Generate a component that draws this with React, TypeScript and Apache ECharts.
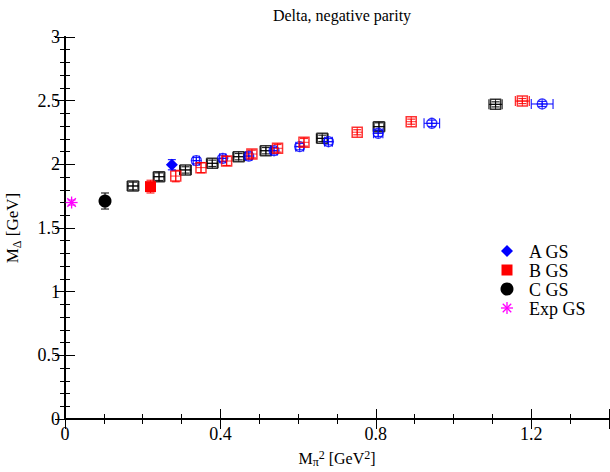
import React, { useEffect, useRef } from "react";
import * as echarts from "echarts";

// ---- data ----
const aOpenX = [0.338, 0.406, 0.473, 0.538, 0.604, 0.678, 0.806, 0.944, 1.228];
const aOpenY = [2.029, 2.047, 2.065, 2.107, 2.139, 2.178, 2.244, 2.322, 2.474];
const aOpenXErr = [0.008, 0.008, 0.008, 0.008, 0.01, 0.01, 0.012, 0.02, 0.028];
const aOpenYErr = [0.025, 0.025, 0.025, 0.025, 0.025, 0.025, 0.025, 0.025, 0.02];

const bOpenX = [0.285, 0.35, 0.416, 0.481, 0.547, 0.615, 0.752, 0.891, 1.177];
const bOpenY = [1.908, 1.974, 2.026, 2.081, 2.126, 2.173, 2.252, 2.335, 2.497];
const bOpenXErr = [0.0, 0.0, 0.0, 0.0, 0.0, 0.0, 0.0, 0.0, 0.018];
const bOpenYErr = [0.045, 0.04, 0.035, 0.03, 0.03, 0.03, 0.02, 0.02, 0.02];

const cOpenX = [0.175, 0.242, 0.31, 0.379, 0.447, 0.517, 0.662, 0.808, 1.108];
const cOpenY = [1.83, 1.903, 1.956, 2.008, 2.06, 2.107, 2.204, 2.296, 2.471];
const cOpenXErr = [0.015, 0.015, 0.015, 0.015, 0.015, 0.015, 0.015, 0.015, 0.017];
const cOpenYErr = [0.03, 0.03, 0.025, 0.025, 0.025, 0.025, 0.025, 0.03, 0.02];

const aGsX = [0.275];
const aGsY = [1.997];
const aGsYErr = [0.04];

const bGsX = [0.22];
const bGsY = [1.825];
const bGsYErr = [0.05];

const cGsX = [0.103];
const cGsY = [1.712];
const cGsYErr = [0.063];

const expX = [0.017];
const expY = [1.7];
const expYErr = [0.02];

const xTicks = ["0", "0.4", "0.8", "1.2"];
const yTicks = ["0", "0.5", "1", "1.5", "2", "2.5", "3"];

const legendNames = ["A GS", "B GS", "C GS", "Exp GS"];

const BLUE = "#0000ff";
const RED = "#ff0000";
const BLACK = "#000000";
const MAGENTA = "#ff00ff";
const FONT = "Liberation Serif";

function build(xs: number[], ys: number[], xe: number[] | null, ye: number[]) {
  return xs.map((x, i) => [x, ys[i], xe ? xe[i] : 0, ye[i]]);
}

function markerShapes(kind: string, cx: number, cy: number, color: string): any[] {
  const out: any[] = [];
  if (kind === "openSquare") {
    const h = 5;
    out.push({ type: "rect", shape: { x: cx - h, y: cy - h, width: 2 * h, height: 2 * h }, style: { fill: "none", stroke: color, lineWidth: 1.5, opacity: 0.8 } });
    out.push({ type: "line", shape: { x1: cx - h, y1: cy, x2: cx + h, y2: cy }, style: { stroke: color, lineWidth: 1, opacity: 0.8 } });
    out.push({ type: "line", shape: { x1: cx, y1: cy - h, x2: cx, y2: cy + h }, style: { stroke: color, lineWidth: 1, opacity: 0.8 } });
  } else if (kind === "openCircle") {
    const r = 5;
    out.push({ type: "circle", shape: { cx, cy, r }, style: { fill: "none", stroke: color, lineWidth: 1.3, opacity: 0.8 } });
    out.push({ type: "line", shape: { x1: cx - r, y1: cy, x2: cx + r, y2: cy }, style: { stroke: color, lineWidth: 1, opacity: 0.8 } });
    out.push({ type: "line", shape: { x1: cx, y1: cy - r, x2: cx, y2: cy + r }, style: { stroke: color, lineWidth: 1, opacity: 0.8 } });
  } else if (kind === "diamond") {
    const h = 6;
    out.push({ type: "polygon", shape: { points: [[cx, cy - h], [cx + h, cy], [cx, cy + h], [cx - h, cy]] }, style: { fill: color } });
  } else if (kind === "square") {
    const h = 5.5;
    out.push({ type: "rect", shape: { x: cx - h, y: cy - h, width: 2 * h, height: 2 * h }, style: { fill: color } });
  } else if (kind === "circle") {
    out.push({ type: "circle", shape: { cx, cy, r: 6.5 }, style: { fill: color } });
  } else if (kind === "star") {
    const r = 6;
    for (let k = 0; k < 4; k++) {
      const a = (k * Math.PI) / 4;
      out.push({ type: "line", shape: { x1: cx - r * Math.cos(a), y1: cy - r * Math.sin(a), x2: cx + r * Math.cos(a), y2: cy + r * Math.sin(a) }, style: { stroke: color, lineWidth: 1.3 } });
    }
  }
  return out;
}

function makeSeries(name: string, data: number[][], kind: string, color: string, z: number) {
  return {
    type: "custom",
    name,
    data,
    z,
    clip: false,
    renderItem: (params: any, api: any) => {
      const x = api.value(0);
      const y = api.value(1);
      const xe = api.value(2);
      const ye = api.value(3);
      const c = api.coord([x, y]);
      const children: any[] = [];
      const errStyle = { stroke: color, lineWidth: 1.2, opacity: 0.85 };
      if (ye > 0) {
        const yt = api.coord([x, y + ye])[1];
        const yb = api.coord([x, y - ye])[1];
        children.push({ type: "line", shape: { x1: c[0], y1: yt, x2: c[0], y2: yb }, style: errStyle });
        children.push({ type: "line", shape: { x1: c[0] - 4, y1: yt, x2: c[0] + 4, y2: yt }, style: errStyle });
        children.push({ type: "line", shape: { x1: c[0] - 4, y1: yb, x2: c[0] + 4, y2: yb }, style: errStyle });
      }
      if (xe > 0) {
        const xl = api.coord([x - xe, y])[0];
        const xr = api.coord([x + xe, y])[0];
        children.push({ type: "line", shape: { x1: xl, y1: c[1], x2: xr, y2: c[1] }, style: errStyle });
        children.push({ type: "line", shape: { x1: xl, y1: c[1] - 5, x2: xl, y2: c[1] + 5 }, style: errStyle });
        children.push({ type: "line", shape: { x1: xr, y1: c[1] - 5, x2: xr, y2: c[1] + 5 }, style: errStyle });
      }
      children.push(...markerShapes(kind, c[0], c[1], color));
      return { type: "group", children };
    },
  };
}

export default function App() {
  const ref = useRef<HTMLDivElement>(null);
  useEffect(() => {
    if (!ref.current) return;
    const chart = echarts.init(ref.current, undefined, { renderer: "svg" });
    const axisLine = { show: true, lineStyle: { color: "#000", width: 2 } };
    const legendKinds = ["diamond", "square", "circle", "star"];
    const legendColors = [BLUE, RED, BLACK, MAGENTA];
    const legendGraphics: any[] = [];
    legendNames.forEach((n, i) => {
      const y = 251 + i * 19;
      legendGraphics.push(...markerShapes(legendKinds[i], 507, y, legendColors[i]).map((s) => ({ ...s, silent: true })));
      legendGraphics.push({ type: "text", x: 529, y: y + 1, style: { text: n, fontFamily: FONT, fontSize: 18, fill: "#000", verticalAlign: "middle", align: "left" } });
    });

    const xLabel = (v: number) => {
      const s = xTicks.find((t) => Math.abs(parseFloat(t) - v) < 1e-6);
      return s ?? "";
    };
    const yLabel = (v: number) => {
      const s = yTicks.find((t) => Math.abs(parseFloat(t) - v) < 1e-6);
      return s ?? "";
    };

    chart.setOption({
      animation: false,
      backgroundColor: "#fff",
      title: {
        text: "Delta, negative parity",
        left: 337,
        textAlign: "center",
        top: 2,
        textStyle: { fontFamily: FONT, fontSize: 16, fontWeight: "normal", color: "#000" },
      },
      grid: { left: 65, right: 1, top: 37, bottom: 53, outerBoundsMode: "none", containLabel: false },
      xAxis: [
        {
          type: "value",
          min: 0,
          max: 1.4,
          interval: 0.4,
          position: "bottom",
          axisLine,
          axisTick: { show: true, inside: true, length: 10, lineStyle: { color: "#000", width: 1 } },
          minorTick: { show: true, splitNumber: 4, length: 5, lineStyle: { color: "#000", width: 1 } },
          splitLine: { show: false },
          axisLabel: { formatter: xLabel, fontFamily: FONT, fontSize: 18, color: "#000", margin: 6, showMaxLabel: false },
          name: "M{sub|π}{sup|2} [GeV{sup|2}]",
          nameLocation: "middle",
          nameGap: 30,
          nameTextStyle: {
            fontFamily: FONT,
            fontSize: 16,
            color: "#000",
            rich: {
              sub: { fontFamily: FONT, fontSize: 12, color: "#000", verticalAlign: "bottom", padding: [7, 0, 0, 0] },
              sup: { fontFamily: FONT, fontSize: 12, color: "#000", verticalAlign: "top", padding: [0, 0, 5, 0] },
            },
          },
        },
        {
          type: "value",
          min: 0,
          max: 1.4,
          interval: 0.4,
          position: "top",
          axisLine,
          axisTick: { show: true, inside: true, length: 10, lineStyle: { color: "#000", width: 1 } },
          minorTick: { show: true, splitNumber: 4, length: 5, lineStyle: { color: "#000", width: 1 } },
          splitLine: { show: false },
          axisLabel: { show: false },
        },
      ],
      yAxis: [
        {
          type: "value",
          min: 0,
          max: 3,
          interval: 0.5,
          position: "left",
          axisLine,
          axisTick: { show: true, inside: true, length: 10, lineStyle: { color: "#000", width: 1 } },
          minorTick: { show: true, splitNumber: 5, length: 5, lineStyle: { color: "#000", width: 1 } },
          splitLine: { show: false },
          axisLabel: { formatter: yLabel, fontFamily: FONT, fontSize: 18, color: "#000", margin: 5 },
          name: "M{sub|Δ} [GeV]",
          nameLocation: "middle",
          nameRotate: 90,
          nameGap: 42,
          nameTextStyle: {
            fontFamily: FONT,
            fontSize: 17,
            color: "#000",
            rich: {
              sub: { fontFamily: FONT, fontSize: 12, color: "#000", verticalAlign: "bottom", padding: [10, 0, 0, 0] },
            },
          },
        },
        {
          type: "value",
          min: 0,
          max: 3,
          interval: 0.5,
          position: "right",
          axisLine,
          axisTick: { show: true, inside: true, length: 10, lineStyle: { color: "#000", width: 1 } },
          minorTick: { show: true, splitNumber: 5, length: 5, lineStyle: { color: "#000", width: 1 } },
          splitLine: { show: false },
          axisLabel: { show: false },
        },
      ],
      graphic: legendGraphics,
      series: [
        makeSeries("C open", build(cOpenX, cOpenY, cOpenXErr, cOpenYErr), "openSquare", BLACK, 2),
        makeSeries("A open", build(aOpenX, aOpenY, aOpenXErr, aOpenYErr), "openCircle", BLUE, 3),
        makeSeries("B open", build(bOpenX, bOpenY, bOpenXErr, bOpenYErr), "openSquare", RED, 4),
        makeSeries(legendNames[0], build(aGsX, aGsY, null, aGsYErr), "diamond", BLUE, 5),
        makeSeries(legendNames[1], build(bGsX, bGsY, null, bGsYErr), "square", RED, 5),
        makeSeries(legendNames[2], build(cGsX, cGsY, null, cGsYErr), "circle", BLACK, 5),
        makeSeries(legendNames[3], build(expX, expY, null, expYErr), "star", MAGENTA, 5),
      ],
    });
    return () => chart.dispose();
  }, []);
  return <div ref={ref} style={{ position: "absolute", left: 0, top: 0, width: 610, height: 472 }} />;
}
